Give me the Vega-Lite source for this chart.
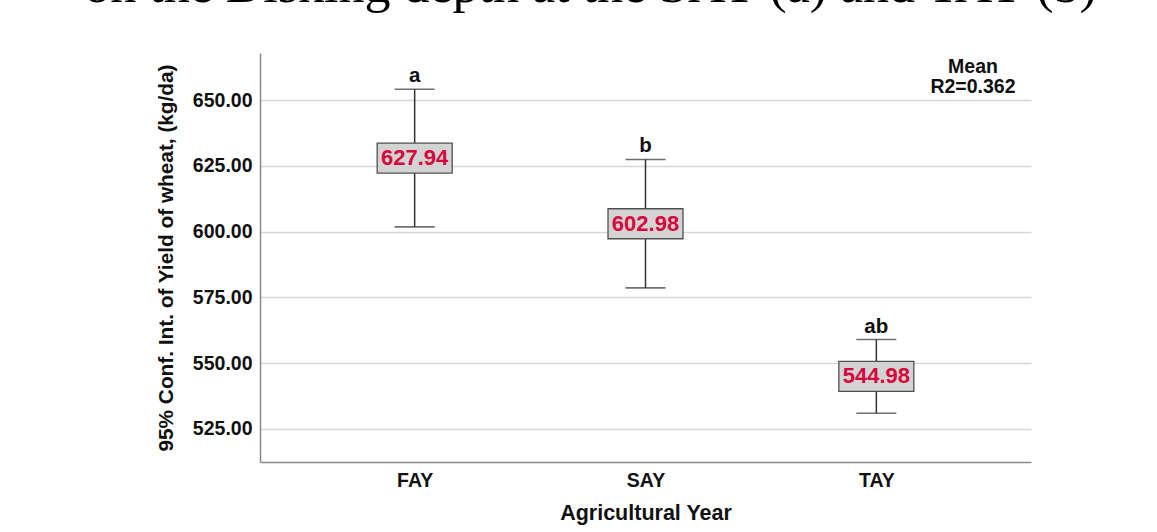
{
  "$schema": "https://vega.github.io/schema/vega-lite/v6.json",
  "autosize": "none",
  "width": 771,
  "height": 409,
  "padding": {"left": 260, "top": 53, "right": 126, "bottom": 70},
  "background": "white",
  "title": {
    "text": "on the Disking depth at the SAY (a) and TAY (b)",
    "font": "Liberation Serif",
    "fontSize": 52,
    "fontWeight": "normal",
    "color": "black",
    "anchor": "middle",
    "frame": "group",
    "baseline": "alphabetic",
    "offset": -1,
    "dx": -55
  },
  "config": {
    "font": "Liberation Sans",
    "view": {"stroke": null},
    "axis": {
      "domainColor": "#8a8a8a",
      "domainWidth": 1.5,
      "ticks": false,
      "labelFont": "Liberation Sans",
      "labelFontWeight": "bold",
      "labelColor": "#111111",
      "titleFont": "Liberation Sans",
      "titleColor": "#111111"
    }
  },
  "data": {
    "values": [
      {"year": "FAY", "mean": 627.94, "low": 601.8, "high": 654.1, "group": "a"},
      {"year": "SAY", "mean": 602.98, "low": 578.6, "high": 627.4, "group": "b"},
      {"year": "TAY", "mean": 544.98, "low": 531.0, "high": 559.0, "group": "ab"}
    ]
  },
  "encoding": {
    "x": {
      "field": "year",
      "type": "nominal",
      "sort": ["FAY", "SAY", "TAY"],
      "scale": {"type": "point", "padding": 0.67},
      "axis": {
        "title": "Agricultural Year",
        "titleFontSize": 21.5,
        "titleFontWeight": "bold",
        "titlePadding": 13,
        "labelFontSize": 19.5,
        "labelAngle": 0,
        "labelPadding": 9,
        "grid": false
      }
    }
  },
  "layer": [
    {
      "mark": {"type": "rule", "color": "#333333", "strokeWidth": 1.5},
      "encoding": {
        "y": {
          "field": "low",
          "type": "quantitative",
          "scale": {"domain": [512.46, 667.86], "nice": false, "zero": false},
          "axis": {
            "title": "95% Conf. Int. of Yield of wheat, (kg/da)",
            "titleFontSize": 20.8,
            "titleFontWeight": "bold",
            "titlePadding": 16,
            "labelFontSize": 19.5,
            "labelPadding": 8,
            "format": ".2f",
            "values": [525, 550, 575, 600, 625, 650],
            "grid": true,
            "gridColor": "#d6d6d6",
            "gridWidth": 1.5
          }
        },
        "y2": {"field": "high"}
      }
    },
    {
      "mark": {"type": "tick", "color": "#333333", "size": 40, "thickness": 1.6},
      "encoding": {"y": {"field": "low", "type": "quantitative"}}
    },
    {
      "mark": {"type": "tick", "color": "#333333", "size": 40, "thickness": 1.6},
      "encoding": {"y": {"field": "high", "type": "quantitative"}}
    },
    {
      "mark": {
        "type": "point",
        "shape": "M-2.5,-1H2.5V1H-2.5Z",
        "size": 900,
        "filled": true,
        "fill": "#d3d3d3",
        "stroke": "#505050",
        "strokeWidth": 1.3,
        "opacity": 1
      },
      "encoding": {"y": {"field": "mean", "type": "quantitative"}}
    },
    {
      "mark": {
        "type": "text",
        "font": "Liberation Sans",
        "fontWeight": "bold",
        "fontSize": 22,
        "color": "#d7063c",
        "baseline": "middle",
        "align": "center"
      },
      "encoding": {
        "y": {"field": "mean", "type": "quantitative"},
        "text": {"field": "mean", "type": "quantitative", "format": ".2f"}
      }
    },
    {
      "mark": {
        "type": "text",
        "font": "Liberation Sans",
        "fontWeight": "bold",
        "fontSize": 20.5,
        "color": "#111111",
        "baseline": "alphabetic",
        "align": "center",
        "dy": -7
      },
      "encoding": {
        "y": {"field": "high", "type": "quantitative"},
        "text": {"field": "group", "type": "nominal"}
      }
    },
    {
      "data": {"values": [{"note": ["Mean", "R2=0.362"]}]},
      "mark": {
        "type": "text",
        "font": "Liberation Sans",
        "fontWeight": "bold",
        "fontSize": 19.5,
        "lineHeight": 19.5,
        "color": "#111111",
        "baseline": "top",
        "align": "center",
        "dx": -58,
        "dy": 5
      },
      "encoding": {
        "x": {"value": "width"},
        "y": {"value": 0},
        "text": {"field": "note", "type": "nominal"}
      }
    }
  ]
}
